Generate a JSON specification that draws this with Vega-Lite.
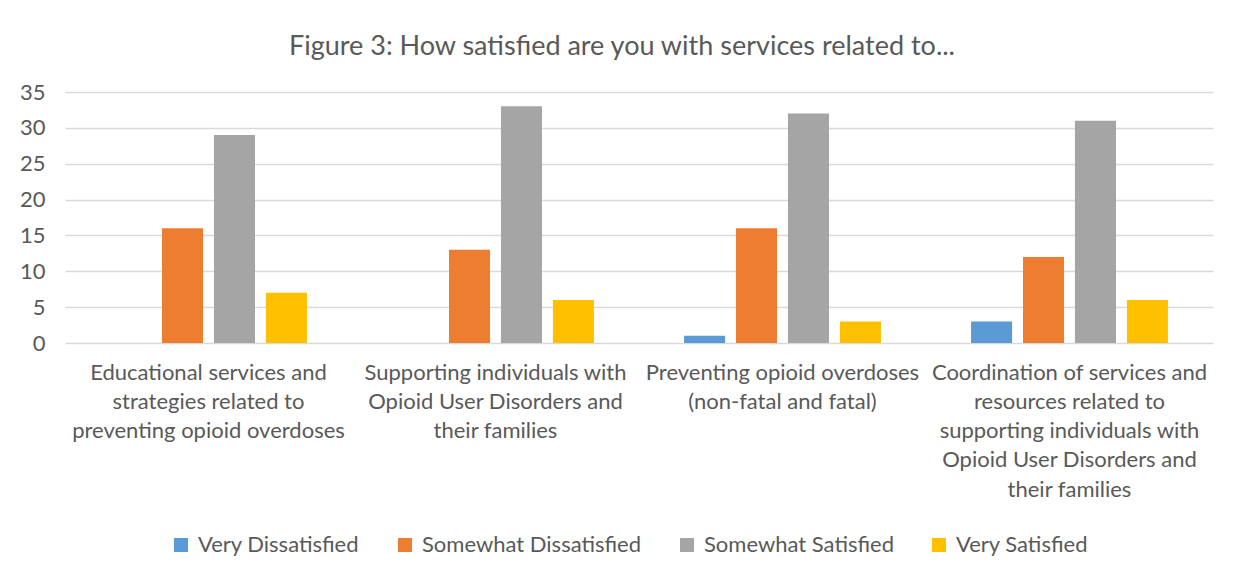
{
  "$schema": "https://vega.github.io/schema/vega-lite/v6.json",
  "autosize": "none",
  "width": 1148,
  "height": 251,
  "padding": {"left": 65, "top": 92, "right": 34, "bottom": 238},
  "background": "white",
  "title": {
    "text": "Figure 3: How satisfied are you with services related to...",
    "font": "Lato",
    "fontSize": 27,
    "fontWeight": "normal",
    "color": "#595959",
    "anchor": "middle",
    "dx": -17,
    "offset": 20
  },
  "data": {
    "values": [
      {"service": "Educational services and|strategies related to|preventing opioid overdoses", "rating": "Very Dissatisfied", "count": 0},
      {"service": "Educational services and|strategies related to|preventing opioid overdoses", "rating": "Somewhat Dissatisfied", "count": 16},
      {"service": "Educational services and|strategies related to|preventing opioid overdoses", "rating": "Somewhat Satisfied", "count": 29},
      {"service": "Educational services and|strategies related to|preventing opioid overdoses", "rating": "Very Satisfied", "count": 7},
      {"service": "Supporting individuals with|Opioid User Disorders and|their families", "rating": "Very Dissatisfied", "count": 0},
      {"service": "Supporting individuals with|Opioid User Disorders and|their families", "rating": "Somewhat Dissatisfied", "count": 13},
      {"service": "Supporting individuals with|Opioid User Disorders and|their families", "rating": "Somewhat Satisfied", "count": 33},
      {"service": "Supporting individuals with|Opioid User Disorders and|their families", "rating": "Very Satisfied", "count": 6},
      {"service": "Preventing opioid overdoses|(non-fatal and fatal)", "rating": "Very Dissatisfied", "count": 1},
      {"service": "Preventing opioid overdoses|(non-fatal and fatal)", "rating": "Somewhat Dissatisfied", "count": 16},
      {"service": "Preventing opioid overdoses|(non-fatal and fatal)", "rating": "Somewhat Satisfied", "count": 32},
      {"service": "Preventing opioid overdoses|(non-fatal and fatal)", "rating": "Very Satisfied", "count": 3},
      {"service": "Coordination of services and|resources related to|supporting individuals with|Opioid User Disorders and|their families", "rating": "Very Dissatisfied", "count": 3},
      {"service": "Coordination of services and|resources related to|supporting individuals with|Opioid User Disorders and|their families", "rating": "Somewhat Dissatisfied", "count": 12},
      {"service": "Coordination of services and|resources related to|supporting individuals with|Opioid User Disorders and|their families", "rating": "Somewhat Satisfied", "count": 31},
      {"service": "Coordination of services and|resources related to|supporting individuals with|Opioid User Disorders and|their families", "rating": "Very Satisfied", "count": 6}
    ]
  },
  "mark": {"type": "bar"},
  "encoding": {
    "x": {
      "field": "service",
      "type": "nominal",
      "sort": null,
      "scale": {"paddingInner": 0.314, "paddingOuter": 0.157},
      "axis": {
        "title": null,
        "labelExpr": "split(datum.label, '|')",
        "labelAngle": 0,
        "labelFont": "Lato",
        "labelFontSize": 22,
        "labelColor": "#595959",
        "labelLineHeight": 29.3,
        "labelPadding": 19,
        "labelLimit": 400,
        "domain": false,
        "ticks": false,
        "grid": false
      }
    },
    "xOffset": {
      "field": "rating",
      "type": "nominal",
      "sort": ["Very Dissatisfied", "Somewhat Dissatisfied", "Somewhat Satisfied", "Very Satisfied"],
      "scale": {"paddingInner": 0.21, "paddingOuter": 0}
    },
    "y": {
      "field": "count",
      "type": "quantitative",
      "scale": {"domain": [0, 35], "nice": false},
      "axis": {
        "title": null,
        "values": [0, 5, 10, 15, 20, 25, 30, 35],
        "labelFont": "Lato",
        "labelFontSize": 22,
        "labelColor": "#595959",
        "labelPadding": 20,
        "domain": false,
        "ticks": false,
        "grid": true,
        "gridColor": "#d9d9d9",
        "gridWidth": 1.5
      }
    },
    "color": {
      "field": "rating",
      "type": "nominal",
      "sort": ["Very Dissatisfied", "Somewhat Dissatisfied", "Somewhat Satisfied", "Very Satisfied"],
      "scale": {
        "domain": ["Very Dissatisfied", "Somewhat Dissatisfied", "Somewhat Satisfied", "Very Satisfied"],
        "range": ["#5b9bd5", "#ed7d31", "#a5a5a5", "#ffc000"]
      },
      "legend": {
        "title": null,
        "orient": "none",
        "direction": "horizontal",
        "columns": 4,
        "legendX": 105,
        "legendY": 442,
        "symbolType": "square",
        "symbolSize": 196,
        "symbolStrokeWidth": 0,
        "labelFont": "Lato",
        "labelFontSize": 22,
        "labelColor": "#595959",
        "labelOffset": 6,
        "columnPadding": 34,
        "labelLimit": 400
      }
    }
  },
  "config": {"view": {"stroke": null}}
}
